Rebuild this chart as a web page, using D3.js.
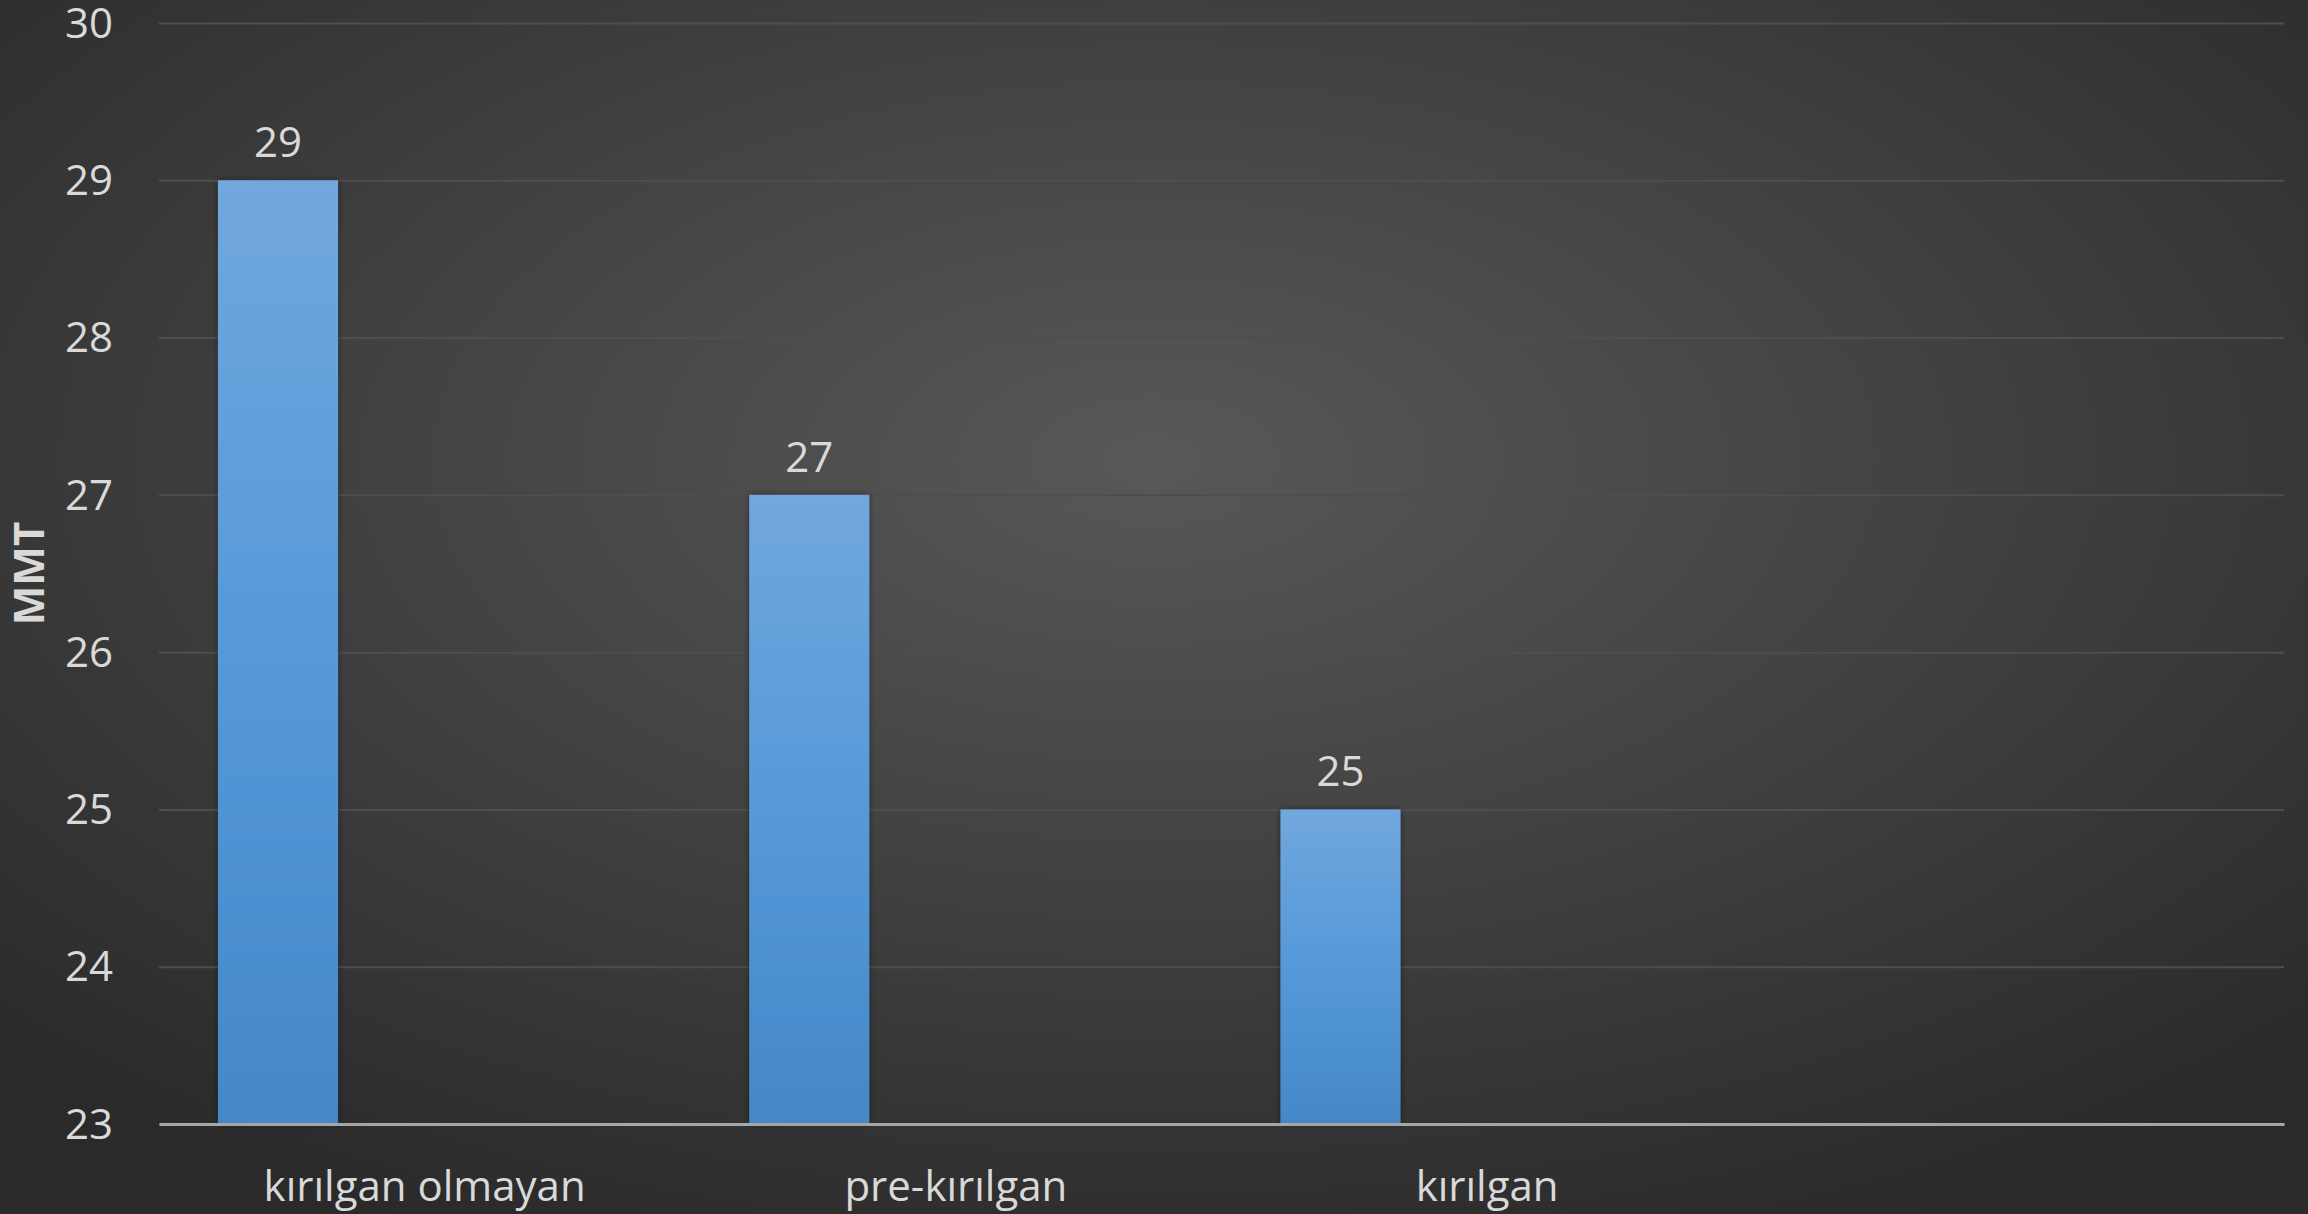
<!DOCTYPE html>
<meta charset="utf-8">
<style>
  body { margin: 0; background: #2b2b2b; }
  .tick text, .lbl { font-family: "Open Sans", sans-serif; fill: #d9d9d9; }
</style>
<body>
<script src="https://d3js.org/d3.v7.min.js"></script>
<script>

// data
var categories = ["kırılgan olmayan", "pre-kırılgan", "kırılgan", ""];
var values = [29, 27, 25, null];
var yTicks = [23, 24, 25, 26, 27, 28, 29, 30];
var yTitle = "MMT";

var W = 2308, H = 1214;
var margin = {top: 23, right: 24, bottom: 90, left: 159},
    width = W - margin.left - margin.right,
    height = H - margin.top - margin.bottom;

var svg = d3.select("body").append("svg")
    .attr("width", W)
    .attr("height", H);

var defs = svg.append("defs");
var bg = defs.append("radialGradient").attr("id", "bg")
    .attr("cx", "0.5").attr("cy", "0.38").attr("r", "0.7");
bg.append("stop").attr("offset", "0%").attr("stop-color", "#585858");
bg.append("stop").attr("offset", "100%").attr("stop-color", "#2a2a2a");

var barGrad = defs.append("linearGradient").attr("id", "bar")
    .attr("x1", 0).attr("y1", 0).attr("x2", 0).attr("y2", 1);
barGrad.append("stop").attr("offset", "0%").attr("stop-color", "#71a7dd");
barGrad.append("stop").attr("offset", "50%").attr("stop-color", "#5599d9");
barGrad.append("stop").attr("offset", "100%").attr("stop-color", "#4488c8");

var shadow = defs.append("filter").attr("id", "sh")
    .attr("x", "-20%").attr("y", "-5%").attr("width", "140%").attr("height", "110%");
shadow.append("feDropShadow").attr("dx", 0).attr("dy", 0)
    .attr("stdDeviation", 3).attr("flood-color", "#000").attr("flood-opacity", 0.45);

svg.append("rect").attr("width", W).attr("height", H).attr("fill", "url(#bg)");

var g = svg.append("g")
    .attr("transform", "translate(" + margin.left + "," + margin.top + ")");

var x = d3.scaleBand().domain(categories).range([0, width]);
var y = d3.scaleLinear().domain([23, 30]).range([height, 0]);

// gridlines
g.append("g")
    .call(d3.axisLeft(y).tickValues(yTicks).tickSize(-width).tickFormat(""))
    .call(function(s) {
      s.select(".domain").remove();
      s.selectAll("line").attr("stroke", "#4e4e4e").attr("stroke-width", 2);
    });

// bars sit in the left part of each category band
var barOff = x.bandwidth() * 0.111, barW = x.bandwidth() * 0.226;
var data = categories.map(function(c, i) { return {cat: c, v: values[i]}; })
    .filter(function(d) { return d.v != null; });

g.selectAll(".bar").data(data).enter().append("rect")
    .attr("class", "bar")
    .attr("x", function(d) { return x(d.cat) + barOff; })
    .attr("y", function(d) { return y(d.v); })
    .attr("width", barW)
    .attr("height", function(d) { return height - y(d.v); })
    .attr("fill", "url(#bar)")
    .attr("filter", "url(#sh)");

g.selectAll(".val").data(data).enter().append("text")
    .attr("class", "lbl")
    .attr("x", function(d) { return x(d.cat) + barOff + barW / 2; })
    .attr("y", function(d) { return y(d.v) - 23; })
    .attr("text-anchor", "middle")
    .attr("font-size", 42)
    .text(function(d) { return d.v; });

// y axis labels
g.append("g")
    .call(d3.axisLeft(y).tickValues(yTicks).tickSize(0).tickPadding(46).tickFormat(d3.format("d")))
    .call(function(s) {
      s.select(".domain").remove();
      s.selectAll("text").attr("font-size", 42).attr("dy", "0.34em");
    });

// x axis
g.append("g")
    .attr("transform", "translate(0," + height + ")")
    .call(d3.axisBottom(x).tickSize(0).tickPadding(47))
    .call(function(s) {
      s.select(".domain").attr("stroke", "#a6a6a6").attr("stroke-width", 3);
      s.selectAll("text").attr("font-size", 42);
    });

svg.append("text")
    .attr("class", "lbl")
    .attr("transform", "translate(44," + (margin.top + height / 2) + ") rotate(-90)")
    .attr("text-anchor", "middle")
    .attr("font-size", 42)
    .attr("font-weight", "bold")
    .text(yTitle);

</script>
</body>
